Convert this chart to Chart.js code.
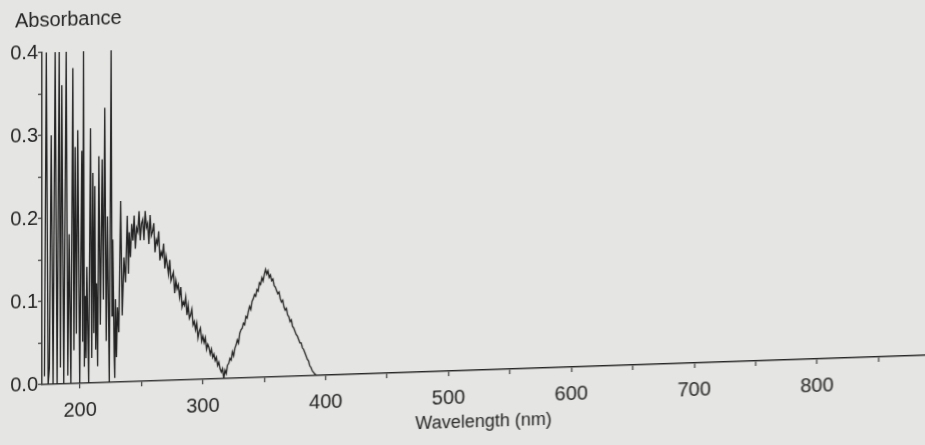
<!DOCTYPE html>
<html><head><meta charset="utf-8">
<script src="https://cdn.jsdelivr.net/npm/chart.js@4.4.1/dist/chart.umd.min.js"></script>
<style>
html,body{margin:0;padding:0;background:#e5e6e3;overflow:hidden;width:925px;height:445px;}
#wrap{width:925px;height:480px;transform:skewY(-1.9deg);transform-origin:0 0;background:#e5e6e3;}
canvas{display:block;}
</style></head><body>
<div id="wrap"><canvas id="c" width="925" height="480"></canvas></div>
<script>
const yTitle = 'Absorbance';
const xTitle = 'Wavelength (nm)';
const xTicks = [200,250,300,350,400,450,500,550,600,650,700,750,800,850];
const xTickLabels = ['200','','300','','400','','500','','600','','700','','800',''];
const yTicks = [0,0.05,0.1,0.15,0.2,0.25,0.3,0.35,0.4];
const yTickLabels = ['0.0','','0.1','','0.2','','0.3','','0.4'];

// noisy far-UV region (read spike by spike)
const uvWavelengths = [
171,172.5,174,175,176.5,178,179.7,181.3,183,184,
185.1,186.7,188.7,190,191.1,192.5,194.1,195,196,197,
198.1,199.7,201.4,202.1,202.8,203.5,204.1,204.8,205.5,207,
208.5,209.5,210.4,211.2,212,212.7,213.4,214.3,215.3,216.5,
218,219,220.1,221.3,222.3,223.8,225.3,226,226.6,227.8,
228.2,228.8,229.6,230.4,231.5,233,234.3,235.7,237,238.4,
239.4
];
const uvAbsorbance = [
0.01,0.40,0.00,0.02,0.30,0.00,0.40,0.00,0.40,0.02,
0.36,0.00,0.40,0.01,0.18,0.00,0.38,0.04,0.285,0.06,
0.305,0.00,0.28,0.05,0.40,0.02,0.105,0.03,0.14,0.00,
0.307,0.03,0.253,0.06,0.237,0.04,0.12,0.02,0.273,0.07,
0.269,0.10,0.331,0.05,0.20,0.00,0.40,0.08,0.172,0.03,
0.005,0.10,0.03,0.09,0.06,0.218,0.08,0.15,0.12,0.20,
0.13
];

// two absorption bands, 1 nm steps, then flat baseline
const bandWavelengths = [
240,241,242,243,244,245,246,247,248,249,250,
251,252,253,254,255,256,257,258,259,260,
261,262,263,264,265,266,267,268,269,270,
271,272,273,274,275,276,277,278,279,280,
281,282,283,284,285,286,287,288,289,290,
291,292,293,294,295,296,297,298,299,300,
301,302,303,304,305,306,307,308,309,310,
311,312,313,314,315,316,317,318,319,320,
321,322,323,324,325,326,327,328,329,330,
331,332,333,334,335,336,337,338,339,340,
341,342,343,344,345,346,347,348,349,350,
351,352,353,354,355,356,357,358,359,360,
361,362,363,364,365,366,367,368,369,370,
371,372,373,374,375,376,377,378,379,380,
381,382,383,384,385,386,387,388,389,390,
391,392,393,
400,450,500,550,600,650,700,750,800,850,888
];
const bandAbsorbance = [
0.18,
0.15,0.19,0.17,0.20,0.16,0.185,0.18,0.205,0.17,0.19,
0.195,0.17,0.205,0.185,0.19,0.165,0.20,0.175,0.18,0.19,
0.155,0.17,0.165,0.18,0.145,0.155,0.15,0.165,0.135,0.15,
0.14,0.128,0.145,0.12,0.125,0.13,0.105,0.12,0.11,0.115,
0.10,0.112,0.088,0.094,0.09,0.10,0.078,0.09,0.074,0.078,
0.085,0.066,0.07,0.06,0.068,0.05,0.058,0.062,0.046,0.052,
0.044,0.05,0.036,0.042,0.038,0.03,0.036,0.026,0.03,0.022,
0.026,0.016,0.02,0.012,0.008,0.012,0.0,0.01,0.006,0.016,
0.018,0.024,0.022,0.032,0.027,0.036,0.04,0.046,0.042,0.054,
0.058,0.06,0.066,0.064,0.074,0.072,0.08,0.086,0.082,0.092,
0.095,0.10,0.098,0.106,0.104,0.114,0.112,0.12,0.116,0.124,
0.13,0.124,0.128,0.12,0.123,0.116,0.118,0.11,0.108,0.104,
0.10,0.102,0.094,0.09,0.092,0.084,0.08,0.082,0.074,0.072,
0.066,0.068,0.06,0.058,0.054,0.05,0.048,0.044,0.04,0.04,
0.034,0.032,0.028,0.024,0.02,0.018,0.012,0.01,0.006,0.004,
0.002,0.001,0.0,
0,0,0,0,0,0,0,0,0,0,0
];

const wavelengths = uvWavelengths.concat(bandWavelengths);
const absorbance = uvAbsorbance.concat(bandAbsorbance);

const FONT = '"Liberation Sans", Arial, Helvetica, sans-serif';
const TXT = '#262626';
const AX = '#3a3a3a';

const yTitlePlugin = {
  id: 'yTitleTop',
  afterDraw(chart) {
    const ctx = chart.ctx;
    ctx.save();
    ctx.font = '20px ' + FONT;
    ctx.fillStyle = TXT;
    ctx.textAlign = 'left';
    ctx.textBaseline = 'middle';
    ctx.fillText(yTitle, 15, 22);
    ctx.restore();
  }
};

new Chart(document.getElementById('c'), {
  type: 'line',
  data: {
    datasets: [{
      data: wavelengths.map((w, i) => ({ x: w, y: absorbance[i] })),
      borderColor: '#222222',
      borderWidth: 1.3,
      pointRadius: 0,
      tension: 0,
      fill: false
    }]
  },
  plugins: [yTitlePlugin],
  options: {
    responsive: false,
    animation: false,
    devicePixelRatio: 1,
    layout: { padding: { left: 0, right: 0, top: 54, bottom: 0 } },
    plugins: {
      legend: { display: false },
      tooltip: { enabled: false },
      title: { display: false }
    },
    scales: {
      x: {
        type: 'linear', min: 169, max: 888,
        afterBuildTicks: s => { s.ticks = xTicks.map(v => ({ value: v })); },
        afterFit: s => { s.height = 94; },
        grid: { display: true, drawOnChartArea: false, drawTicks: true, tickLength: 5, color: AX, lineWidth: 1.2 },
        border: { display: true, color: AX, width: 1.5 },
        ticks: { autoSkip: false, maxRotation: 0, padding: 10, color: TXT,
          font: { family: FONT, size: 20 }, callback: (v, i) => xTickLabels[i] },
        title: { display: true, text: xTitle, color: TXT,
          font: { family: FONT, size: 18 }, padding: { top: 0, bottom: 31 } }
      },
      y: {
        type: 'linear', min: 0, max: 0.4,
        afterBuildTicks: s => { s.ticks = yTicks.map(v => ({ value: v })); },
        afterFit: s => { s.width = 42; },
        grid: { display: true, drawOnChartArea: false, drawTicks: true, tickLength: 4, color: AX, lineWidth: 1.2 },
        border: { display: true, color: AX, width: 1.5 },
        ticks: { autoSkip: false, padding: 0, color: TXT,
          font: { family: FONT, size: 20 }, callback: (v, i) => yTickLabels[i] }
      }
    }
  }
});
</script>
</body></html>
